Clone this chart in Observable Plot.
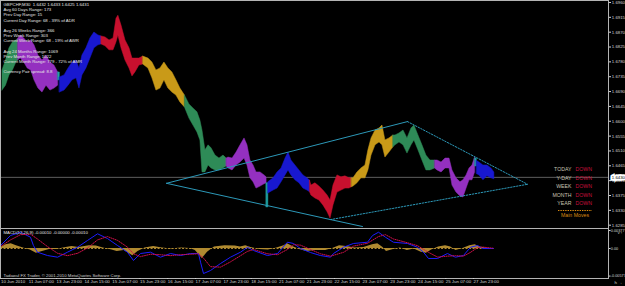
<!DOCTYPE html>
<html><head><meta charset="utf-8">
<script src="https://cdn.jsdelivr.net/npm/d3@7"></script>
<script src="https://cdn.jsdelivr.net/npm/@observablehq/plot@0.6"></script>
<style>
html,body{margin:0;padding:0;background:#000;}
#chart{position:relative;width:625px;height:286px;background:#000;overflow:hidden;}
#chart svg{display:block;}
</style></head><body><div id="chart"></div>
<script>
// ---------- DATA ----------
// x = trading-hour index from the first visible bar (10 Jun 15:00)
const dayKeys   = ["10 Jun","11 Jun","13 Jun","14 Jun","15 Jun","16 Jun","17 Jun","18 Jun","20 Jun","21 Jun","22 Jun","23 Jun","24 Jun","25 Jun","27 Jun","28 Jun"];
const dayColors = ["#2e8b57","#9430c0","#1fa5a5","#1818d0","#c8102e","#c99a18","#2e8b57","#9430c0","#1fa5a5","#1818d0","#c8102e","#c99a18","#2e8b57","#9430c0","#1fa5a5","#1818d0"];
// [hour, high, low]
const bars10Jun = [[0,1.6754,1.6693],[2,1.6784,1.6708],[4,1.6821,1.6739],[6,1.6839,1.6754],[8,1.6845,1.6778],[9,1.6850,1.6785]];
const bars11Jun = [[9,1.6850,1.6785],[10.5,1.6860,1.6790],[12.5,1.6851,1.6778],[14.5,1.6839,1.6760],[16.5,1.6845,1.6754],[18.4,1.6830,1.6724],[20.7,1.6799,1.6699],[23,1.6784,1.6687],[25.3,1.6799,1.6708],[27.6,1.6778,1.6693],[29.9,1.6769,1.6699],[32,1.6748,1.6708]];
const bars13Jun = [[32,1.6748,1.6724],[33,1.6748,1.6724]];
const bars14Jun = [[33,1.6733,1.6687],[35.7,1.6739,1.6693],[38,1.6760,1.6708],[40.3,1.6778,1.6724],[42.6,1.6784,1.6730],[44.3,1.6760,1.6699],[46,1.6799,1.6739],[48.3,1.6821,1.6760],[50.6,1.6851,1.6790],[52.9,1.6869,1.6821],[55.2,1.6860,1.6830],[57,1.6857,1.6833]];
const bars15Jun = [[57,1.6857,1.6833],[59.3,1.6854,1.6827],[61.6,1.6845,1.6815],[63.9,1.6851,1.6815],[65.6,1.6911,1.6839],[66.7,1.6920,1.6860],[68.5,1.6890,1.6821],[70.8,1.6845,1.6784],[73.1,1.6821,1.6760],[74.8,1.6790,1.6736],[76.5,1.6790,1.6748],[78.8,1.6790,1.6769],[81,1.6796,1.6772]];
const bars16Jun = [[81,1.6796,1.6772],[84,1.6790,1.6760],[86.3,1.6778,1.6730],[88.6,1.6754,1.6693],[90.9,1.6760,1.6699],[93.2,1.6778,1.6724],[95.5,1.6760,1.6699],[97.8,1.6748,1.6687],[100.1,1.6724,1.6678],[102.4,1.6699,1.6657],[105,1.6678,1.6642]];
const bars17Jun = [[105,1.6678,1.6642],[107.6,1.6651,1.6608],[109.9,1.6639,1.6587],[112.2,1.6627,1.6566],[113.9,1.6602,1.6542],[115.1,1.6572,1.6445],[116.8,1.6512,1.6445],[118.6,1.6527,1.6466],[120.3,1.6518,1.6457],[122.6,1.6496,1.6451],[124.9,1.6487,1.6451],[127.2,1.6496,1.6457],[129,1.6487,1.6463]];
const bars18Jun = [[129,1.6487,1.6463],[130.1,1.6490,1.6457],[132.4,1.6487,1.6451],[134.7,1.6505,1.6466],[137,1.6527,1.6475],[139.3,1.6548,1.6487],[141,1.6527,1.6466],[142.7,1.6481,1.6427],[144.5,1.6466,1.6415],[146.2,1.6445,1.6396],[148.5,1.6445,1.6402],[150.8,1.6436,1.6409],[152,1.6430,1.6412]];
const bars20Jun = [[152,1.6412,1.6339],[153,1.6412,1.6339]];
const bars21Jun = [[153,1.6415,1.6381],[156,1.6427,1.6390],[158.3,1.6445,1.6396],[160.6,1.6457,1.6415],[162.9,1.6487,1.6436],[164.6,1.6505,1.6451],[166.3,1.6481,1.6436],[168.6,1.6466,1.6421],[170.9,1.6451,1.6412],[173.2,1.6436,1.6396],[175.5,1.6427,1.6390],[177,1.6420,1.6385]];
const bars22Jun = [[177,1.6420,1.6385],[177.8,1.6405,1.6375],[180.1,1.6412,1.6366],[182.4,1.6402,1.6360],[184.7,1.6390,1.6345],[187.1,1.6375,1.6324],[188.8,1.6360,1.6305],[190.5,1.6405,1.6345],[192.8,1.6436,1.6384],[195.1,1.6430,1.6390],[197.4,1.6433,1.6396],[199.7,1.6427,1.6396],[201,1.6427,1.6400]];
const bars23Jun = [[201,1.6427,1.6400],[202,1.6427,1.6402],[204.3,1.6445,1.6412],[206.6,1.6457,1.6427],[208.9,1.6466,1.6427],[210.6,1.6512,1.6451],[212.4,1.6548,1.6496],[214.7,1.6572,1.6527],[217,1.6578,1.6536],[218.7,1.6587,1.6527],[220.4,1.6542,1.6490],[222.7,1.6548,1.6505],[225,1.6557,1.6521]];
const bars24Jun = [[225,1.6557,1.6521],[226.2,1.6557,1.6527],[228.5,1.6563,1.6536],[230.8,1.6572,1.6527],[233.1,1.6548,1.6502],[235.4,1.6578,1.6527],[237.1,1.6587,1.6542],[239.4,1.6557,1.6512],[241.7,1.6527,1.6481],[244,1.6496,1.6451],[246.3,1.6481,1.6451],[249,1.6481,1.6457]];
const bars25Jun = [[249,1.6481,1.6457],[250.4,1.6481,1.6451],[252.7,1.6475,1.6445],[255,1.6487,1.6457],[257.3,1.6487,1.6457],[259,1.6451,1.6405],[261.3,1.6427,1.6384],[263.6,1.6415,1.6372],[265.3,1.6421,1.6369],[267.1,1.6436,1.6396],[268.8,1.6457,1.6421],[270.5,1.6466,1.6421],[272,1.6490,1.6445]];
const bars27Jun = [[272,1.6487,1.6463],[273,1.6487,1.6463]];
const bars28Jun = [[273,1.6480,1.6440],[274.5,1.6475,1.6436],[276.8,1.6466,1.6421],[279.1,1.6466,1.6433],[281.4,1.6457,1.6427],[283.1,1.6445,1.6424]];
const dayBars = [bars10Jun,bars11Jun,bars13Jun,bars14Jun,bars15Jun,bars16Jun,bars17Jun,bars18Jun,bars20Jun,bars21Jun,bars22Jun,bars23Jun,bars24Jun,bars25Jun,bars27Jun,bars28Jun];

const lastPrice = 1.6430;
const priceTicks = [1.6960,1.6915,1.6870,1.6825,1.6780,1.6735,1.6690,1.6645,1.6600,1.6555,1.6510,1.6465,1.6420,1.6375,1.6330,1.6285];

// trend-line anchor points (hour, price): A apex-left, B top, C apex-right, D low, E lower-left end
const trendHour  = [94.4, 233.1, 302.2, 188.8, 207.2];
const trendPrice = [1.6412, 1.6599, 1.6409, 1.6302, 1.6281];

const timeTickHour  = [0,16,32,48,64,80,96,112,128,144,160,176,192,208,224,240,256,272];
const timeTickLabel = ["10 Jun 2010","11 Jun 07:00","13 Jun 23:00","14 Jun 15:00","15 Jun 07:00","15 Jun 23:00","16 Jun 15:00","17 Jun 07:00","17 Jun 23:00","18 Jun 15:00","21 Jun 07:00","21 Jun 23:00","22 Jun 15:00","23 Jun 07:00","23 Jun 23:00","24 Jun 15:00","25 Jun 07:00","27 Jun 23:00"];

const macdHour  = [-1.1,4.6,10.4,16.1,17.8,20.1,25.9,31.7,37.4,43.2,48.9,54.7,60.4,66.2,71.9,75.4,79.4,85.2,90.9,96.7,102.4,108.2,112.8,114.0,115.7,119.7,125.5,131.2,137.0,141.0,144.5,152.5,158.3,164.0,167.5,171.5,177.3,183.0,188.8,190.5,196.3,202.0,210.1,213.0,216.4,220.4,225.0,233.1,238.8,242.3,245.2,250.4,256.1,260.7,265.3,269.4,273.4,276.3,282.6];
const macdValue = [0.00063,0.00272,0.00341,0.00237,0.00063,-0.00077,-0.00147,-0.00182,-0.00077,0.00027,0.00168,0.00308,0.00209,0.00063,-0.00077,-0.00251,-0.00105,-0.00077,-0.00182,-0.00105,-0.00147,-0.00105,-0.00105,-0.00287,-0.00524,-0.00461,-0.00314,-0.00182,-0.00077,0.00027,-0.00042,-0.00147,-0.00105,0.00132,0.00105,0,-0.00084,-0.00147,-0.00182,-0.00105,0.00027,0.00105,0.00132,0.00272,0.00341,0.00237,0.00132,0.00105,0.00027,-0.00077,-0.00209,-0.00209,-0.00105,-0.00182,-0.00147,0.00027,0.00063,0,0];
const signalHour  = [-1.1,4.6,10.4,16.1,20.1,25.9,31.7,37.4,43.2,48.9,54.7,60.4,66.2,71.9,75.4,79.4,85.2,90.9,96.7,102.4,108.2,112.8,115.7,119.7,125.5,131.2,137.0,141.0,144.5,152.5,158.3,164.0,167.5,171.5,177.3,183.0,188.8,196.3,202.0,210.1,216.4,220.4,225.0,233.1,238.8,245.2,250.4,256.1,260.7,265.3,269.4,273.4,276.3,282.6];
const signalValue = [0.00040,0.00180,0.00290,0.00300,0.00200,0.00040,-0.00100,-0.00150,-0.00100,0.00010,0.00180,0.00250,0.00170,0.00030,-0.00110,-0.00170,-0.00120,-0.00130,-0.00150,-0.00130,-0.00120,-0.00110,-0.00200,-0.00380,-0.00390,-0.00280,-0.00150,-0.00060,-0.00020,-0.00110,-0.00130,-0.00020,0.00080,0.00070,-0.00020,-0.00110,-0.00160,-0.00080,0.00050,0.00110,0.00250,0.00290,0.00200,0.00120,0.00060,-0.00080,-0.00180,-0.00160,-0.00150,-0.00160,-0.00080,0.00020,0.00030,0.00005];
const histHour  = [-1.1,2,5,8,12,16,19.5,23,27,31,35,40,44,50,54,58,63,66,70,75,78,82,87,92,97,103,108,111,115,118,122,128,134,137,140,143,148,153,158,162,164,167,171,175,180,186,190,194,198,203,208,213,216,219,221,225,229,233,237,241,244,247,251,255,258,261,265,269,272,275,279,282.6];
const histValue = [0.0002,0.0008,0.0010,0.0006,0.0001,-0.0003,-0.0010,-0.0006,-0.0002,-0.0002,0.0001,0.0004,0.0002,0.0006,0.0005,0.0001,-0.0003,-0.0006,-0.0004,-0.0015,-0.0006,0.0001,0.0004,0.0001,-0.0001,0.0001,0,-0.0004,-0.0021,-0.0008,0.0003,0.0006,0.0005,0.0003,0.0006,0.0002,-0.0002,-0.0003,0.0001,0.0006,0.0010,0.0004,-0.0002,-0.0006,-0.0004,-0.0004,0,0.0006,0.0004,0.0001,0.0002,0.0008,0.0010,0.0002,-0.0006,-0.0002,0.0001,-0.0004,-0.0001,-0.0008,-0.0010,-0.0003,0.0003,0.0006,0.0003,-0.0004,0,0.0006,0.0008,0.0003,0,0];
const macdTicks = [0.00377, 0, -0.00577];
const macdTickLabel = ["0.00377","0.00","-0.00577"];

const infoLines = ["GBPCHF,M30  1.6432 1.6433 1.6425 1.6431","Avg 60 Days Range: 173","Prev Day Range: 15","Current Day Range: 68 - 39% of ADR","","Avg 26 Weeks Range: 366","Prev Week Range: 303","Current Week Range: 68 - 19% of AWR","","Avg 24 Months Range: 1069","Prev Month Range: 1022","Current Month Range: 779 - 72% of AMR","","Currency Pair spread: 8.8"];
const trendNames  = ["TODAY","Y-DAY","WEEK","MONTH","YEAR"];
const trendStates = ["DOWN","DOWN","DOWN","DOWN","DOWN"];

// ---------- BUILD ----------
const font = "Liberation Sans, Arial, sans-serif";
const bars = dayBars.flatMap((arr, i) => arr.map(([h, hi, lo]) => ({day: dayKeys[i], color: dayColors[i], h, hi, lo})));
const tp = trendHour.map((h, i) => ({h, p: trendPrice[i]}));
const [pA, pB, pC, pD, pE] = tp;
const macd = macdHour.map((h, i) => ({h, v: macdValue[i]}));
const signal = signalHour.map((h, i) => ({h, v: signalValue[i]}));
const hist = histHour.map((h, i) => ({h, v: histValue[i]}));
const xDomain = [-1.15, 348.8];
const trendColor = "#2c98b8";
const axisColor = "#d4d4d4";

const dashLine = (index, scales, values, dims) => {
  const r = dims.width - dims.marginRight;
  return d3.create("svg:line").attr("x1", r - 50).attr("x2", r - 16).attr("y1", 210.5).attr("y2", 210.5)
    .attr("stroke", "#d98a10").attr("stroke-dasharray", "1.4,1").node();
};

const pricePlot = Plot.plot({
  width: 625, height: 228, marginLeft: 0, marginRight: 17, marginTop: 0, marginBottom: 0,
  style: {background: "#000", fontFamily: font, overflow: "visible"},
  x: {domain: xDomain, axis: null},
  y: {domain: [1.6275, 1.6966], axis: null},
  color: {type: "identity"},
  marks: [
    Plot.ruleY([lastPrice], {stroke: "#5e5e5e", strokeWidth: 1}),
    Plot.areaY(bars, {x: "h", y1: "lo", y2: "hi", z: "day", fill: "color", stroke: "color", strokeWidth: 0.5, curve: "linear"}),
    Plot.line([pA, pB], {x: "h", y: "p", stroke: trendColor, strokeWidth: 1}),
    Plot.line([pA, pD, pE], {x: "h", y: "p", stroke: trendColor, strokeWidth: 1, clip: true}),
    Plot.line([pB, pC], {x: "h", y: "p", stroke: trendColor, strokeWidth: 1, strokeDasharray: "1.5,1.5"}),
    Plot.line([pD, pC], {x: "h", y: "p", stroke: trendColor, strokeWidth: 1, strokeDasharray: "1.5,1.5"}),
    Plot.frame({stroke: "#b4b4b4"}),
    Plot.axisY(priceTicks, {anchor: "right", tickSize: 2, tickPadding: 1.3, tickFormat: d3.format(".4f"), fontSize: 4.3, color: axisColor, fontFamily: font}),
    Plot.text([lastPrice], {y: d => d, frameAnchor: "right", dx: 3.3, textAnchor: "start", text: d3.format(".4f"), fontSize: 4.3, fill: "#000", stroke: "#fff", strokeWidth: 3.4, strokeLinejoin: "miter", paintOrder: "stroke", fontFamily: font}),
    Plot.text([infoLines.join("\n")], {frameAnchor: "top-left", dx: 3, dy: 2, lineHeight: 1.2, fontSize: 4.3, fill: "#e6e6e6", textAnchor: "start", fontFamily: font}),
    Plot.text([trendNames.join("\n")], {frameAnchor: "top-right", dx: -37, dy: 164.5, lineHeight: 1.65, fontSize: 5.2, fill: "#c9c3b3", textAnchor: "end", fontFamily: font}),
    Plot.text([trendStates.join("\n")], {frameAnchor: "top-right", dx: -33, dy: 164.5, lineHeight: 1.65, fontSize: 5.2, fill: "#c8103c", textAnchor: "start", fontFamily: font}),
    dashLine,
    Plot.text(["Main Moves"], {frameAnchor: "top-right", dx: -33.5, dy: 214.7, lineAnchor: "middle", fontSize: 5.2, fill: "#d98a10", textAnchor: "middle", fontFamily: font})
  ]
});

const macdPlot = Plot.plot({
  width: 625, height: 58, marginLeft: 0, marginRight: 17, marginTop: 0, marginBottom: 8,
  style: {background: "#000", fontFamily: font, overflow: "visible"},
  x: {domain: xDomain, axis: null},
  y: {domain: [-0.00628, 0.00419], axis: null},
  marks: [
    Plot.areaY(hist, {x: "h", y: "v", fill: "#b08a30", curve: "linear"}),
    Plot.ruleY([0], {x1: histHour[0], x2: histHour[histHour.length - 1], stroke: "#b08a30", strokeDasharray: "2,1.5"}),
    Plot.line(macd, {x: "h", y: "v", stroke: "#1c1cff", strokeWidth: 1}),
    Plot.line(signal, {x: "h", y: "v", stroke: "#d0104a", strokeWidth: 1, strokeDasharray: "1,1.2"}),
    Plot.frame({stroke: "#b4b4b4"}),
    Plot.axisY(macdTicks, {anchor: "right", tickSize: 1.5, tickPadding: 0.8, tickFormat: d => macdTickLabel[macdTicks.indexOf(d)], fontSize: 3.8, color: axisColor, fontFamily: font}),
    Plot.axisX(timeTickHour, {anchor: "bottom", tickSize: 1, tickPadding: 0.5, tickFormat: d => timeTickLabel[timeTickHour.indexOf(d)], textAnchor: "start", dx: -1.5, fontSize: 4.4, color: axisColor, fontFamily: font}),
    Plot.text(["MACD(12,26,9) -0.00010 -0.00000 -0.00010"], {frameAnchor: "top-left", dx: 3, dy: 2, fontSize: 4.3, fill: "#e6e6e6", textAnchor: "start", fontFamily: font}),
    Plot.text(["Tadawul FX Trader, © 2001-2010 MetaQuotes Software Corp."], {frameAnchor: "bottom-left", dx: 3, dy: -2, fontSize: 4.3, fill: "#d0d0d0", textAnchor: "start", fontFamily: font})
  ]
});

const root = document.getElementById("chart");
root.appendChild(pricePlot);
root.appendChild(macdPlot);
</script></body></html>
